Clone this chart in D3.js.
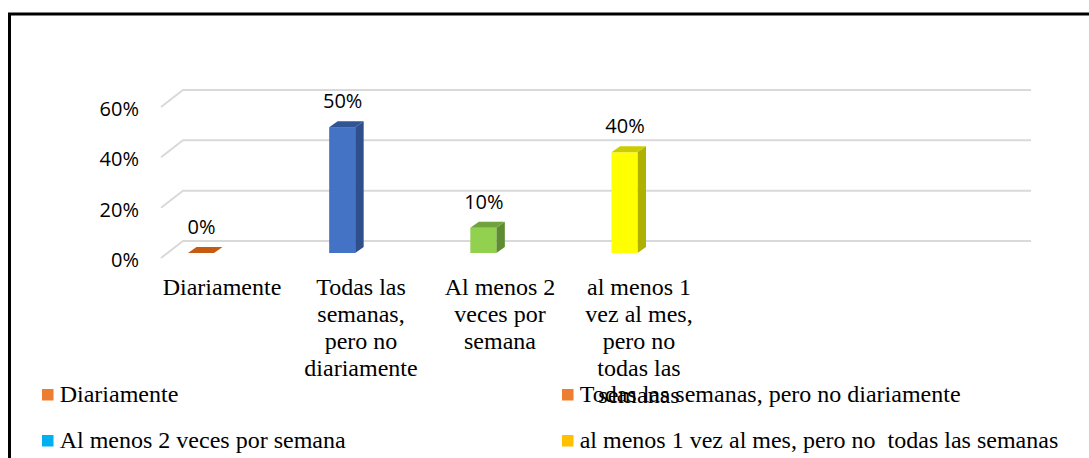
<!DOCTYPE html>
<html>

<head>
    <meta charset="utf-8">
    <title>Frecuencia</title>
    <script src="https://d3js.org/d3.v7.min.js"></script>
    <style>
        body { margin: 0; background: #fff; }
        svg { display: block; }
        .tick-label, .data-label { font-family: "Open Sans", sans-serif; font-size: 20px; fill: #000; }
        .cat-label { font-family: "Liberation Serif", "Times New Roman", serif; font-size: 24px; fill: #000; }
        .legend-label { font-family: "Liberation Serif", "Times New Roman", serif; font-size: 24px; fill: #000; white-space: pre; }
    </style>
</head>

<body>
    <div id="chart"></div>
    <script>
        // datos
        var categories = ["Diariamente", "Todas las semanas, pero no diariamente", "Al menos 2 veces por semana", "al menos 1 vez al mes, pero no  todas las semanas"];
        var values = [0, 0.5, 0.1, 0.4];
        var catLines = [
            ["Diariamente"],
            ["Todas las", "semanas,", "pero no", "diariamente"],
            ["Al menos 2", "veces por", "semana"],
            ["al menos 1", "vez al mes,", "pero no", "todas las", "semanas"]
        ];
        var yTicks = [0, 0.2, 0.4, 0.6];
        var legendLabels = ["Diariamente", "Todas las semanas, pero no diariamente", "Al menos 2 veces por semana", "al menos 1 vez al mes, pero no  todas las semanas"];
        var legendColors = ["#ED7D31", "#ED7D31", "#00B0F0", "#FFC000"];
        // colores de las barras: frente, arriba, lado
        var barColors = [
            ["#C55A11", "#C55A11", "#9E4810"],
            ["#4472C4", "#2F5597", "#2E4F8C"],
            ["#92D050", "#6FA33B", "#5E8C32"],
            ["#FFFF00", "#CCCC00", "#B0B000"]
        ];

        var W = 1089, H = 458;

        var svg = d3.select("#chart")
            .append("svg")
            .attr("width", W)
            .attr("height", H);

        // marco
        svg.append("rect")
            .attr("x", 9.5).attr("y", 14)
            .attr("width", 1200).attr("height", 800)
            .attr("fill", "none")
            .attr("stroke", "#000")
            .attr("stroke-width", 3);

        // escalas (pared del fondo)
        var y = d3.scaleLinear().domain([0, 0.6]).range([241, 90]);
        var floorDx = -22, floorDy = 17;   // del fondo hacia el frente
        var wallX0 = 183, wallX1 = 1031;

        var x = d3.scalePoint().domain(categories).range([201, 624.5]);
        var xLab = d3.scalePoint().domain(categories).range([222, 639]);
        var barW = 26, barDx = 8.5, barDy = 6, barFrontDy = 12;

        // lineas de cuadricula
        var grid = svg.append("g");
        yTicks.forEach(function (t) {
            grid.append("path")
                .attr("d", "M" + (wallX0 + floorDx) + "," + (y(t) + floorDy) + "L" + wallX0 + "," + y(t) + "L" + wallX1 + "," + y(t))
                .attr("fill", "none")
                .attr("stroke", "#D9D9D9")
                .attr("stroke-width", 2);
        });

        // etiquetas eje y
        svg.selectAll(".tick-label")
            .data(yTicks)
            .enter()
            .append("text")
            .attr("class", "tick-label")
            .attr("x", 139)
            .attr("y", function (d) { return y(d) + floorDy + 9; })
            .attr("text-anchor", "end")
            .text(d3.format(".0%"));

        // barras 3D
        var bars = svg.selectAll(".bar")
            .data(values)
            .enter()
            .append("g")
            .attr("class", "bar");

        bars.each(function (v, i) {
            var g = d3.select(this);
            var cx = x(categories[i]);
            var x0 = cx - barW / 2, x1 = cx + barW / 2;
            var yb = y(0) + barFrontDy, yt = y(v) + barFrontDy;
            var c = barColors[i];
            if (v > 0) {
                g.append("path")
                    .attr("d", "M" + x1 + "," + yb + "L" + (x1 + barDx) + "," + (yb - barDy) + "L" + (x1 + barDx) + "," + (yt - barDy) + "L" + x1 + "," + yt + "Z")
                    .attr("fill", c[2]);
                g.append("rect")
                    .attr("x", x0).attr("y", yt)
                    .attr("width", barW).attr("height", yb - yt)
                    .attr("fill", c[0]);
            }
            g.append("path")
                .attr("d", "M" + x0 + "," + yt + "L" + x1 + "," + yt + "L" + (x1 + barDx) + "," + (yt - barDy) + "L" + (x0 + barDx) + "," + (yt - barDy) + "Z")
                .attr("fill", c[1]);
        });

        // etiquetas de datos
        svg.selectAll(".data-label")
            .data(values)
            .enter()
            .append("text")
            .attr("class", "data-label")
            .attr("x", function (d, i) { return x(categories[i]) + 0.5; })
            .attr("y", function (d) { return y(d) + barFrontDy - barDy - 13; })
            .attr("text-anchor", "middle")
            .text(d3.format(".0%"));

        // etiquetas de categorias
        var cats = svg.selectAll(".cat-label")
            .data(catLines)
            .enter()
            .append("text")
            .attr("class", "cat-label")
            .attr("text-anchor", "middle");

        cats.selectAll("tspan")
            .data(function (d, i) { return d.map(function (s) { return { s: s, i: i }; }); })
            .enter()
            .append("tspan")
            .attr("x", function (d) { return xLab(categories[d.i]); })
            .attr("y", function (d, j) { return 295 + j * 27; })
            .text(function (d) { return d.s; });

        // leyenda
        var legend = svg.selectAll(".legend")
            .data(legendLabels)
            .enter()
            .append("g")
            .attr("class", "legend")
            .attr("transform", function (d, i) {
                var lx = i % 2 === 0 ? 42 : 562;
                var ly = i < 2 ? 402 : 448;
                return "translate(" + lx + "," + ly + ")";
            });

        legend.append("rect")
            .attr("x", 0).attr("y", -13)
            .attr("width", 11.5).attr("height", 11.5)
            .attr("fill", function (d, i) { return legendColors[i]; });

        legend.append("text")
            .attr("class", "legend-label")
            .attr("x", 17.7)
            .attr("y", 0)
            .text(function (d) { return d; });
    </script>
</body>

</html>
